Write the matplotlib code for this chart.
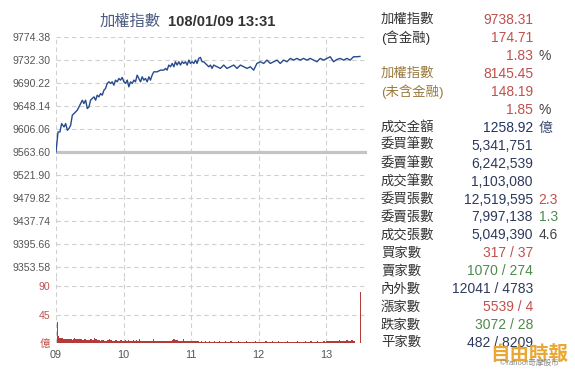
import matplotlib
matplotlib.use("Agg")
import matplotlib.pyplot as plt
import numpy as np

plt.rcParams['font.family'] = ['Liberation Sans', 'Noto Sans CJK TC', 'DejaVu Sans']

# ---------------- data ----------------
ref_close = 9563.60
price_ticks = [9774.38, 9732.30, 9690.22, 9648.14, 9606.06, 9563.60,
               9521.90, 9479.82, 9437.74, 9395.66, 9353.58]
hour_labels = ["09", "10", "11", "12", "13"]

# minutes after 09:00
price_minutes = [0, 1.8, 3.5, 5.0, 7.1, 8.6, 10.1, 11.5, 13.0, 14.5, 16.0, 18.9, 21.9, 23.4,
                 24.8, 26.3, 27.8, 29.3, 30.7, 32.2, 33.7, 35.2, 36.6, 38.1, 39.6, 41.1,
                 42.6, 44.0, 45.5, 47.0, 48.5, 49.9, 51.4, 52.9, 54.4, 55.9, 57.3, 58.8,
                 60.3, 61.8, 63.3, 64.7, 66.2, 67.7, 69.2, 70.6, 72.1, 73.6, 75.1, 76.6,
                 78.0, 79.5, 81.0, 82.5, 83.9, 85.4, 86.9, 89.9, 92.8, 95.8, 97.3, 98.7,
                 100.2, 101.7, 103.2, 104.7, 106.1, 107.6, 109.1, 110.6, 112.0, 113.5,
                 115.0, 116.5, 118.0, 119.4, 120.9, 122.4, 123.9, 125.3, 126.8, 128.3,
                 129.8, 131.2, 132.7, 134.2, 135.7, 137.2, 138.6, 140.1, 143.1, 146.0,
                 149.0, 151.9, 154.9, 157.9, 160.8, 163.8, 166.7, 169.7, 172.6, 175.6,
                 177.1, 178.5, 181.5, 184.5, 187.4, 190.4, 193.3, 196.3, 199.2, 202.2,
                 205.2, 208.1, 211.1, 214.0, 217.0, 219.9, 222.9, 225.8, 228.8, 231.8,
                 234.7, 237.7, 240.6, 243.6, 246.6, 249.5, 252.5, 255.4, 258.4, 261.3,
                 264.3, 267.2, 270.0]
price_values = [9563.6, 9600.3, 9600.3, 9615.5, 9609.4, 9615.5, 9603.3, 9606.4, 9612.5,
                9630.8, 9633.9, 9640.0, 9652.2, 9658.3, 9652.2, 9658.3, 9643.0, 9646.1,
                9658.3, 9661.4, 9664.4, 9658.3, 9667.5, 9664.4, 9670.5, 9667.5, 9676.6,
                9679.7, 9688.9, 9691.9, 9688.9, 9691.9, 9685.8, 9695.0, 9691.9, 9698.0,
                9695.0, 9699.9, 9691.9, 9688.9, 9695.0, 9682.7, 9691.9, 9688.9, 9695.0,
                9691.9, 9704.1, 9698.0, 9691.9, 9701.1, 9695.0, 9698.0, 9691.9, 9701.1,
                9695.0, 9704.1, 9710.2, 9710.2, 9713.3, 9713.3, 9716.4, 9713.3, 9722.5,
                9719.4, 9725.5, 9719.4, 9728.6, 9722.5, 9728.6, 9722.5, 9728.6, 9725.5,
                9728.6, 9722.5, 9731.6, 9725.5, 9728.6, 9725.5, 9731.6, 9725.5, 9734.7,
                9736.5, 9728.6, 9728.6, 9725.5, 9722.5, 9719.4, 9722.5, 9716.4, 9722.5,
                9719.4, 9716.4, 9722.5, 9716.4, 9719.4, 9722.5, 9716.4, 9722.5, 9719.4,
                9716.4, 9719.4, 9713.3, 9719.4, 9725.5, 9728.6, 9725.5, 9731.6, 9725.5,
                9728.6, 9731.6, 9725.5, 9731.6, 9728.6, 9734.7, 9731.6, 9734.7, 9731.6,
                9734.7, 9731.6, 9734.7, 9731.6, 9728.6, 9734.7, 9731.6, 9734.7, 9737.7,
                9728.6, 9732.8, 9734.7, 9731.6, 9734.7, 9731.6, 9737.7, 9737.7, 9738.31]

# volume per minute (億), minute 1..270
volume = [
    34, 11, 9, 8, 8, 7, 7, 7, 6, 6, 6, 6, 6, 5, 6, 9, 7, 7, 6, 6, 6, 6, 5, 5, 6, 6, 5, 5, 5, 6,
    6, 5, 5, 8, 6, 5, 5, 5, 4, 5, 5, 5, 4, 4, 5, 5, 7, 5, 5, 4, 4, 5, 5, 4, 4, 4, 5, 5, 4, 4,
    5, 4, 4, 5, 4, 4, 4, 5, 4, 4, 5, 4, 4, 6, 4, 4, 4, 3, 4, 4, 3, 3, 3, 3, 4, 6, 3, 3, 3, 3,
    3, 3, 3, 4, 3, 3, 3, 3, 4, 3, 4, 4, 5, 7, 6, 5, 5, 4, 4, 3, 4, 3, 7, 4, 4, 4, 3, 4, 3, 3,
    3, 3, 3, 3, 3, 3, 2, 2, 3, 2, 2, 3, 2, 2, 2, 3, 2, 2, 2, 3, 2, 2, 2, 2, 3, 2, 2, 2, 2, 3,
    2, 2, 2, 2, 3, 2, 2, 2, 2, 2, 2, 3, 2, 2, 2, 2, 2, 2, 3, 2, 2, 2, 2, 2, 2, 2, 3, 2, 2, 2,
    2, 2, 2, 2, 2, 3, 2, 2, 2, 2, 2, 3, 2, 2, 2, 2, 3, 2, 2, 2, 2, 2, 2, 2, 3, 2, 2, 2, 2, 2,
    2, 2, 2, 3, 2, 2, 2, 2, 2, 2, 3, 2, 2, 2, 2, 3, 2, 2, 2, 2, 2, 3, 2, 2, 2, 2, 3, 3, 2, 3,
    3, 3, 3, 3, 3, 3, 3, 3, 4, 4, 5, 4, 4, 4, 4, 4, 4, 5, 4, 4, 4, 5, 5, 4, 4, 0, 0, 0, 0, 81]
vol_ticks = [0, 45, 90]
vol_tick_labels = ["億", "45", "90"]

title_name = "加權指數"
title_time = "108/01/09 13:31"

# right panel: (label, label colour, value, value colour, suffix, suffix colour)
panel_rows = [
    ("加權指數", "#333333", "9738.31", "#c0504d", "", "#333333"),
    ("(含金融)", "#333333", "174.71", "#c0504d", "", "#333333"),
    ("", "#333333", "1.83", "#c0504d", "%", "#444444"),
    ("加權指數", "#9a7a3e", "8145.45", "#c0504d", "", "#333333"),
    ("(未含金融)", "#9a7a3e", "148.19", "#c0504d", "", "#333333"),
    ("", "#333333", "1.85", "#c0504d", "%", "#444444"),
    ("成交金額", "#333333", "1258.92", "#1f3560", "億", "#3a4a6a"),
    ("委買筆數", "#333333", "5,341,751", "#2d3a5c", "", "#333333"),
    ("委賣筆數", "#333333", "6,242,539", "#2d3a5c", "", "#333333"),
    ("成交筆數", "#333333", "1,103,080", "#2d3a5c", "", "#333333"),
    ("委買張數", "#333333", "12,519,595", "#2d3a5c", "2.3", "#c0504d"),
    ("委賣張數", "#333333", "7,997,138", "#2d3a5c", "1.3", "#4e8a4e"),
    ("成交張數", "#333333", "5,049,390", "#2d3a5c", "4.6", "#444444"),
    ("買家數", "#333333", "317 / 37", "#c0504d", "", "#333333"),
    ("賣家數", "#333333", "1070 / 274", "#4e8a4e", "", "#333333"),
    ("內外數", "#333333", "12041 / 4783", "#2d3a5c", "", "#333333"),
    ("漲家數", "#333333", "5539 / 4", "#c0504d", "", "#333333"),
    ("跌家數", "#333333", "3072 / 28", "#4e8a4e", "", "#333333"),
    ("平家數", "#333333", "482 / 8209", "#2d3a5c", "", "#333333"),
]

# ---------------- figure ----------------
W, H = 575, 373
fig = plt.figure(figsize=(W / 100, H / 100), dpi=100)
fig.patch.set_facecolor("white")

left = 56 / W
width = (366.7 - 56) / W
ax_p = fig.add_axes([left, 1 - 277 / H, width, (277 - 36.7) / H])
ax_v = fig.add_axes([left, 1 - 343.3 / H, width, (343.3 - 277) / H], sharex=ax_p)

grid_kw = dict(color="#d0d0d0", linestyle=(0, (4, 3)), linewidth=0.8)
xmax = 276
hour_pos = [0, 60, 120, 180, 240]

# price axes
ax_p.set_xlim(0, xmax)
ax_p.set_ylim(9774.38 - (277 - 36.7) * (210.78 / 115.3), 9774.38)
ax_p.set_yticks(price_ticks)
ax_p.set_yticklabels([f"{v:.2f}" for v in price_ticks])
for v in price_ticks:
    if v != ref_close:
        ax_p.axhline(v, zorder=0, **grid_kw)
for h in hour_pos:
    ax_p.axvline(h, zorder=0, **grid_kw)
ax_p.axhline(ref_close, color="#c4c4c4", linewidth=2.3, zorder=1)
ax_p.plot(price_minutes, price_values, color="#264a8c", linewidth=1.0, zorder=3)
ax_p.tick_params(axis="y", length=0, pad=4, labelsize=7.6, labelcolor="#555555")
ax_p.tick_params(axis="x", length=0, labelbottom=False)
for s in ax_p.spines.values():
    s.set_visible(False)
ax_p.patch.set_alpha(0)

# volume axes
vol_minutes = np.arange(1, len(volume) + 1)
ax_v.set_ylim(0, (343.3 - 277) * (90 / 57.3))
for v in vol_ticks[1:]:
    ax_v.axhline(v, zorder=0, **grid_kw)
for h in hour_pos:
    ax_v.axvline(h, zorder=0, **grid_kw)
ax_v.axhline(0, color="#d8d8d8", linewidth=0.8, zorder=0)
ax_v.bar(vol_minutes, volume, width=1.0, color="#b23b3b", linewidth=0, align="edge", zorder=2)
ax_v.set_yticks(vol_ticks)
ax_v.set_yticklabels(vol_tick_labels)
ax_v.set_xticks(hour_pos)
ax_v.set_xticklabels(hour_labels)
ax_v.tick_params(axis="y", length=0, pad=4, labelsize=7.6, labelcolor="#c0504d")
ax_v.tick_params(axis="x", length=0, pad=5, labelsize=7.8, labelcolor="#555555")
for s in ax_v.spines.values():
    s.set_visible(False)
ax_v.patch.set_alpha(0)

# title
fig.text(100 / W, 1 - 21.5 / H, title_name, fontsize=11, color="#4a5a80",
         ha="left", va="center")
fig.text(168 / W, 1 - 21.5 / H, title_time, fontsize=10.6, color="#333333",
         fontweight="bold", ha="left", va="center")

# right panel
y0, dy = 20.0, 17.95
for i, (lab, lc, val, vc, suf, sc) in enumerate(panel_rows):
    y = 1 - (y0 + i * dy) / H
    if lab:
        fig.text(381 / W, y, lab, fontsize=9.6, color=lc, ha="left", va="center")
    fig.text(533 / W, y, val, fontsize=10, color=vc, ha="right", va="center")
    if suf:
        fig.text(538.5 / W, y, suf, fontsize=10, color=sc, ha="left", va="center")

# watermark
fig.text(529 / W, 1 - 354 / H, "自由時報", fontsize=14, color="#e8a22a",
         fontweight="bold", ha="center", va="center", alpha=0.95)
fig.text(530 / W, 1 - 363.5 / H, "©Yahoo!奇摩股市", fontsize=5.5, color="#888888",
         ha="center", va="center")

fig.savefig("out.png", dpi=100, facecolor="white")
